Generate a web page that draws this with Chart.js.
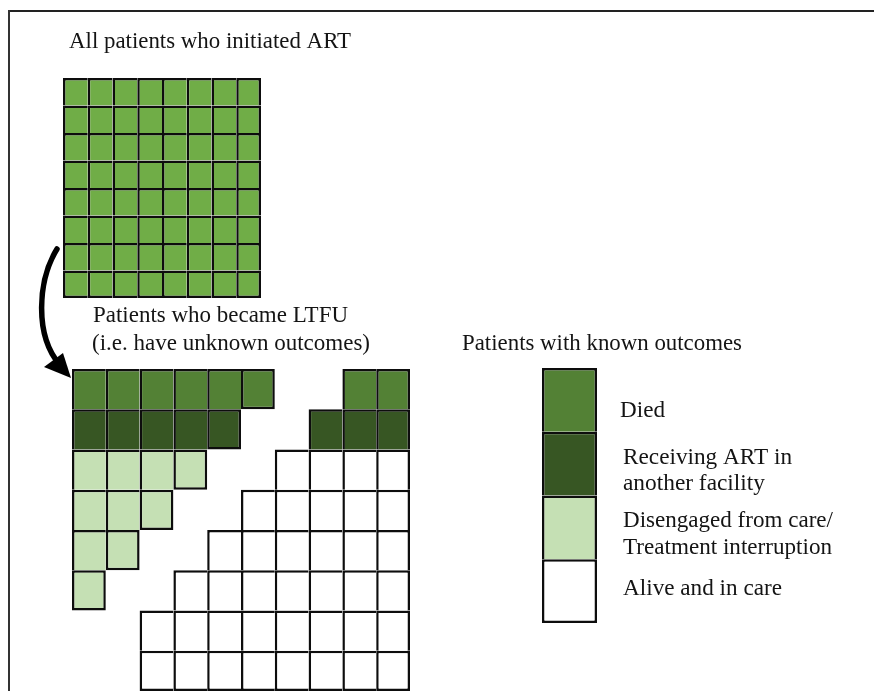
<!DOCTYPE html>
<html>
<head>
<meta charset="utf-8">
<script src="https://cdn.jsdelivr.net/npm/chart.js@4"></script>
<style>
  html, body { margin: 0; padding: 0; background: #fff; }
  #page { position: relative; width: 874px; height: 691px; overflow: hidden; background: #fff; }
  .frame-top { position: absolute; left: 8px; top: 10px; width: 870px; height: 2px; background: #222; }
  .frame-left { position: absolute; left: 8px; top: 10px; width: 2px; height: 690px; background: #333; }
  canvas { position: absolute; }
  svg { position: absolute; left: 0; top: 0; }
</style>
</head>
<body>
<div id="page">
  <div class="frame-top"></div>
  <div class="frame-left"></div>
  <canvas id="textLayer" width="874" height="691" style="left:0; top:0;"></canvas>

  <canvas id="topGrid" width="198" height="220" style="left:63px; top:78px;"></canvas>
  <canvas id="ltfuGrid" width="338" height="322" style="left:72px; top:369px;"></canvas>
  <canvas id="knownBar" width="55" height="255" style="left:542px; top:368px;"></canvas>

  <svg width="874" height="691">
    <path d="M 57 249 C 38 280, 34 335, 60 365" fill="none" stroke="#000" stroke-width="5.5" stroke-linecap="round"/>
    <path d="M 71 378 L 44 367 L 63 353 Z" fill="#000"/>
  </svg>
</div>

<script>
// outcome codes used in the grids
const outcomeCodes = ['D', 'R', 'G', 'W'];
const outcomeLabels = [
    ['Died'],
    ['Receiving ART in', 'another facility'],
    ['Disengaged from care/', 'Treatment interruption'],
    ['Alive and in care']
];
const outcomeColors = ['#538135', '#375623', '#c5e0b4', '#ffffff'];
const initiatedColor = '#70ad47';

// all patients who initiated ART (A = one patient), 8 x 8
const topGridRows = [
    'AAAAAAAA',
    'AAAAAAAA',
    'AAAAAAAA',
    'AAAAAAAA',
    'AAAAAAAA',
    'AAAAAAAA',
    'AAAAAAAA',
    'AAAAAAAA'
];

// patients lost to follow-up, '.' = no patient
const ltfuGridRows = [
    'DDDDDD..DD',
    'RRRRR..RRR',
    'GGGG..WWWW',
    'GGG..WWWWW',
    'GG..WWWWWW',
    'G..WWWWWWW',
    '..WWWWWWWW',
    '..WWWWWWWW'
];

// known outcomes column, top to bottom
const knownRows = ['D', 'R', 'G', 'W'];

const lineW = 2.5;

function colorOf(code) {
    if (code === 'A') return initiatedColor;
    const i = outcomeCodes.indexOf(code);
    return i >= 0 ? outcomeColors[i] : 'rgba(0,0,0,0)';
}

function makeGrid(canvasId, rows) {
    const nRows = rows.length;
    const nCols = rows[0].length;
    const labels = Array.from(rows[0]).map((_, i) => 'c' + i);

    const datasets = rows.map((row, r) => ({
        data: labels.map(() => 1),
        backgroundColor: ctx => colorOf(row[ctx.dataIndex]),
        borderColor: '#0d0d0d',
        borderWidth: ctx => {
            const c = ctx.dataIndex;
            if (row[c] === '.') return 0;
            const right = c + 1 >= nCols || row[c + 1] === '.';
            const below = r + 1 >= nRows || rows[r + 1][c] === '.';
            return { top: lineW, left: lineW, right: right ? lineW : 0, bottom: below ? lineW : 0 };
        },
        borderSkipped: false,
        inflateAmount: 0,
        barPercentage: 1,
        categoryPercentage: 1
    }));

    new Chart(document.getElementById(canvasId), {
        type: 'bar',
        data: { labels: labels, datasets: datasets },
        options: {
            responsive: false,
            devicePixelRatio: 1,
            animation: false,
            events: [],
            layout: { padding: 0 },
            plugins: { legend: { display: false }, tooltip: { enabled: false } },
            scales: {
                x: { display: false, stacked: true },
                y: { display: false, stacked: true, min: 0, max: nRows, reverse: true }
            }
        }
    });
}

makeGrid('topGrid', topGridRows);
makeGrid('ltfuGrid', ltfuGridRows);
makeGrid('knownBar', knownRows);

// text: [text, left, centre y, width in the picture]
const textItems = [
    ['All patients who initiated ART', 69, 41, 282],
    ['Patients who became LTFU', 93, 315, 255],
    ['(i.e. have unknown outcomes)', 92, 343, 278],
    ['Patients with known outcomes', 462, 343, 280]
];
const legendTextY = [[410], [457, 483], [520, 547], [588]];
const legendTextW = [[45], [169, 142], [210, 209], [159]];
outcomeLabels.forEach((lines, i) => {
    lines.forEach((line, j) => {
        textItems.push([line, i === 0 ? 620 : 623, legendTextY[i][j], legendTextW[i][j]]);
    });
});

const tctx = document.getElementById('textLayer').getContext('2d');
tctx.font = '23px "Liberation Serif", serif';
tctx.fillStyle = '#141414';
tctx.textBaseline = 'alphabetic';
textItems.forEach(([text, x, y, w]) => {
    const sx = w / tctx.measureText(text).width;
    tctx.setTransform(sx, 0, 0, 1, x, y + 7);
    tctx.fillText(text, 0, 0);
});
tctx.setTransform(1, 0, 0, 1, 0, 0);
</script>
</body>
</html>
